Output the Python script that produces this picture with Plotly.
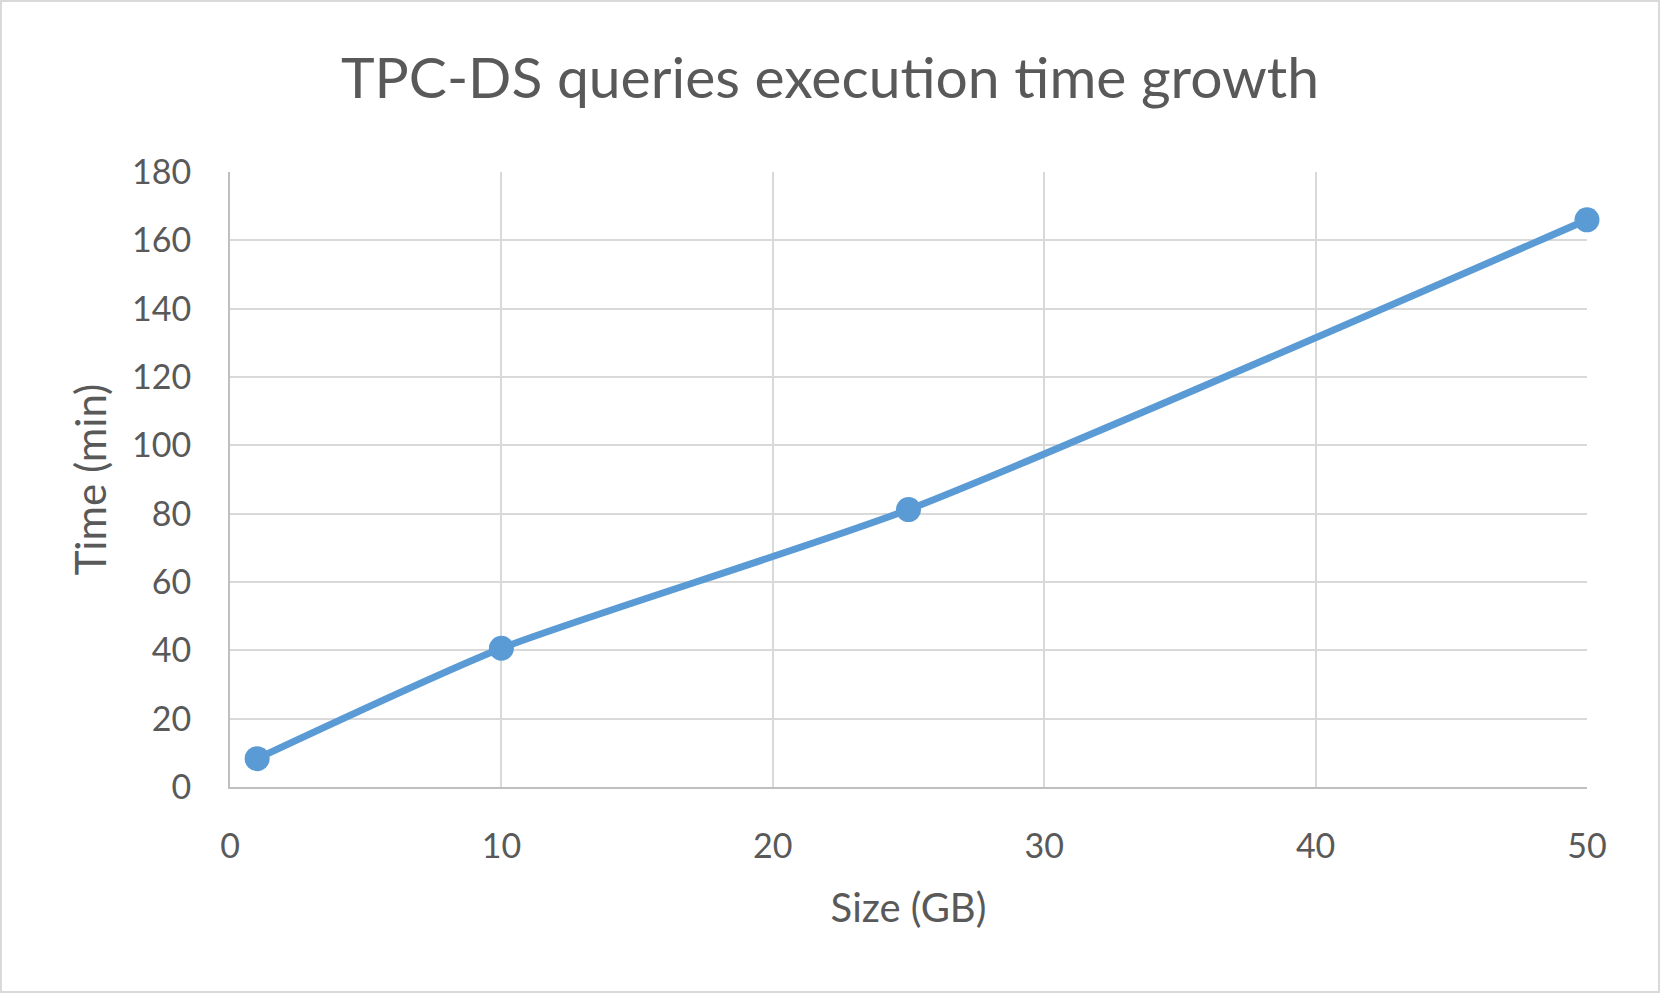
import plotly.graph_objects as go

sizes_gb = [1, 10, 25, 50]
time_min = [8.3, 40.6, 81.2, 166]
x_ticks = [0, 10, 20, 30, 40, 50]
y_ticks = [0, 20, 40, 60, 80, 100, 120, 140, 160, 180]

W, H = 1660, 993
L, R, T, B = 230, 73, 172, 206
FONT = "Lato"
TXT = "#595959"

fig = go.Figure()
fig.add_trace(go.Scatter(
    x=sizes_gb, y=time_min, mode="lines+markers",
    line=dict(color="#5B9BD5", width=7, shape="spline", smoothing=0.6),
    marker=dict(color="#5B9BD5", size=25),
    showlegend=False, cliponaxis=False,
))

pw = W - L - R
ph = H - T - B
fig.add_shape(type="rect", xref="paper", yref="paper",
              x0=(-L + 1) / pw, x1=(pw + R - 1) / pw,
              y0=(-B + 1) / ph, y1=(ph + T - 1) / ph,
              line=dict(color="#D9D9D9", width=2), layer="below")

fig.update_layout(
    width=W, height=H,
    margin=dict(l=L, r=R, t=T, b=B),
    paper_bgcolor="white", plot_bgcolor="white",
    font=dict(family=FONT, color=TXT),
    title=dict(text="TPC-DS queries execution time growth", x=0.5, xanchor="center",
               y=1 - 78 / H, yanchor="middle",
               font=dict(size=57, color=TXT, family=FONT)),
    xaxis=dict(range=[0, 50], tickvals=x_ticks, showgrid=True, gridcolor="#D9D9D9", gridwidth=2,
               showline=True, linecolor="#BFBFBF", linewidth=2, zeroline=False,
               ticks="", ticklabelstandoff=28,
               tickfont=dict(size=34, color=TXT, family=FONT),
               title=dict(text="Size (GB)", font=dict(size=40, color=TXT, family=FONT), standoff=30)),
    yaxis=dict(range=[0, 180], tickvals=y_ticks, showgrid=True, gridcolor="#D9D9D9", gridwidth=2,
               showline=True, linecolor="#BFBFBF", linewidth=2, zeroline=False,
               ticks="", ticklabelstandoff=30,
               tickfont=dict(size=34, color=TXT, family=FONT),
               title=dict(text="Time (min)", font=dict(size=42, color=TXT, family=FONT), standoff=12)),
)

fig.write_html("out.html", config={"displayModeBar": False},
               post_script="document.body.style.margin='0';document.body.style.padding='0';")
